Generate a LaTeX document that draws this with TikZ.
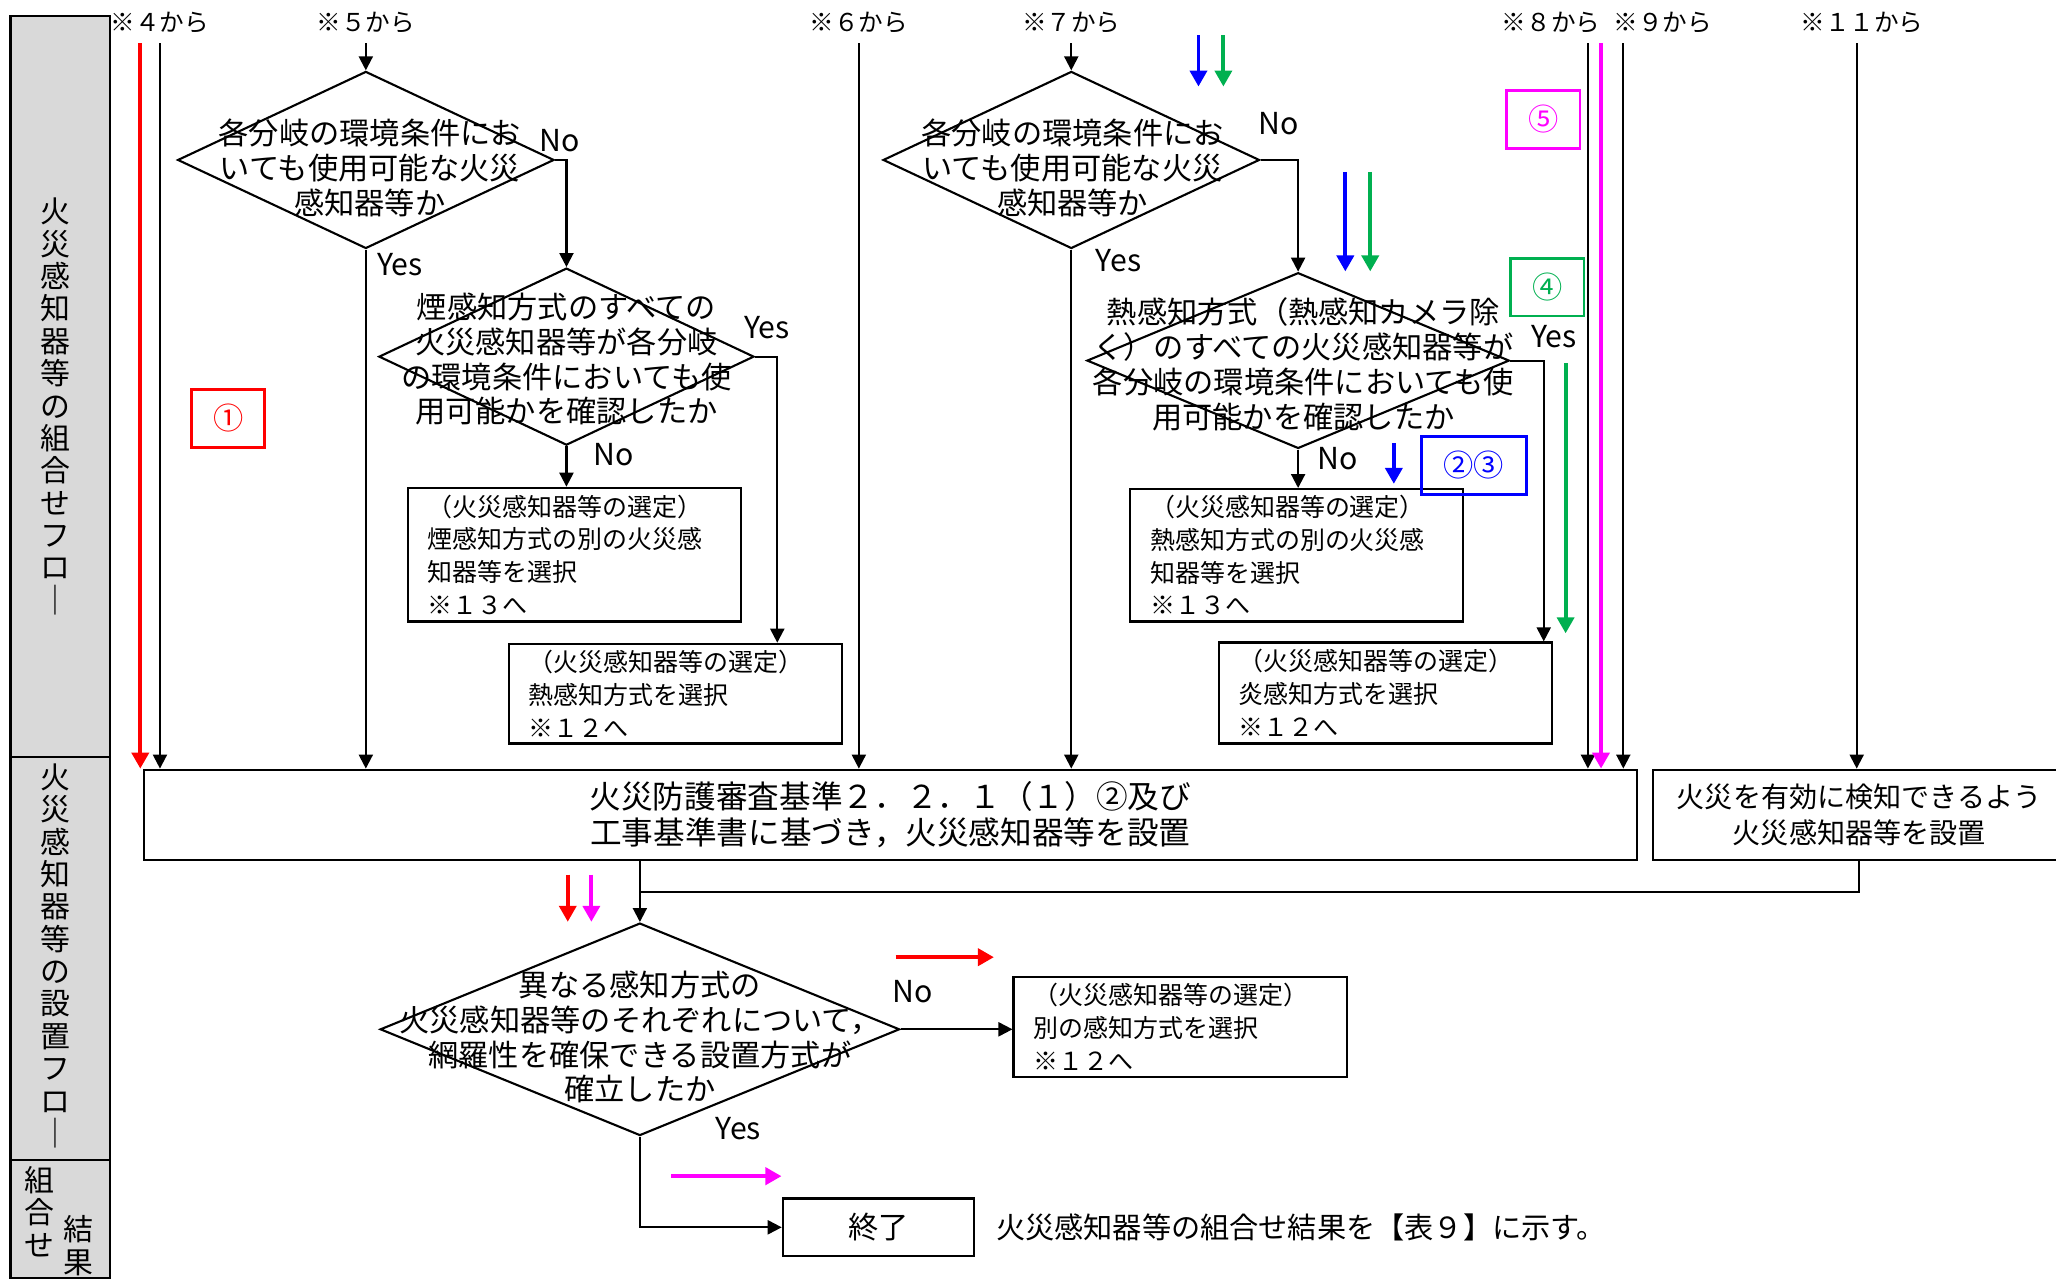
\documentclass[tikz,border=0pt]{standalone}
\usepackage{fontspec}
\setmainfont{Noto Sans CJK JP}
\usetikzlibrary{shapes.geometric, positioning, arrows.meta}
\definecolor{lanegray}{RGB}{217,217,217}
\definecolor{mkgreen}{RGB}{0,176,80}
\definecolor{mkpink}{RGB}{255,0,255}
\definecolor{mkred}{RGB}{255,0,0}
\definecolor{mkblue}{RGB}{0,0,255}

\begin{document}
\begin{tikzpicture}[x=0.013112cm, y=-0.013112cm, line width=0.6pt,
		arr/.style={-{Triangle[length=0.14cm,width=0.14cm]}},
		carr/.style={-{Triangle[length=0.16cm,width=0.17cm]}, line width=1.1pt},
		dia/.style={diamond, draw, inner sep=0pt},
		dtxt/.style={align=center, font=\fontsize{8.6}{9.9}\selectfont},
		sel/.style={rectangle, draw, minimum width=3.33cm, text width=2.93cm, inner xsep=0.2cm, inner ysep=0pt, align=left, font=\fontsize{7.1}{9.3}\selectfont},
		srcl/.style={font=\fontsize{7}{8}\selectfont},
		yn/.style={font=\fontsize{8.6}{9.9}\selectfont},
		num/.style={rectangle, draw, line width=0.8pt, minimum height=0.577cm, font=\fontsize{8.6}{9.9}\selectfont},
		lane/.style={align=center, font=\fontsize{8.5}{9.2}\selectfont}]
				\useasboundingbox (0,0) rectangle (1568,975);
				\clip (0,0) rectangle (1568,975);
				\draw[fill=lanegray] (8,12) rectangle (84,577);
				\draw[fill=lanegray] (8,577) rectangle (84,885);
				\draw[fill=lanegray] (8,885) rectangle (84,975);
				\node[lane] (l1) at (42,310) {火\\災\\感\\知\\器\\等\\の\\組\\合\\せ\\フ\\ロ\\｜};
				\node[lane] (l2) at (42,729) {火\\災\\感\\知\\器\\等\\の\\設\\置\\フ\\ロ\\｜};
				\node[lane] (l3a) at (30,924) {組\\合\\せ};
				\node[lane] (l3b) at (60,950) {結\\果};
				\node[srcl] (t4) at (122,17) {※４から};
				\node[srcl] (t5) at (279,17) {※５から};
				\node[srcl] (t6) at (655,17) {※６から};
				\node[srcl] (t7) at (817,17) {※７から};
				\node[srcl] (t8) at (1183,17) {※８から};
				\node[srcl] (t9) at (1268,17) {※９から};
				\node[srcl] (t11) at (1420,17) {※１１から};
				\coordinate (s4r) at (107,33);
				\coordinate (s4) at (122,33);
				\coordinate (s5) at (279,33);
				\coordinate (s6) at (655,33);
				\coordinate (s7) at (817,33);
				\coordinate (s8) at (1211,33);
				\coordinate (s8m) at (1221,33);
				\coordinate (s9) at (1238,33);
				\coordinate (s11) at (1416,33);
				\node[dia, minimum width=3.763cm, minimum height=1.77cm] (d1) at (279,122) {};
				\node[dtxt] (d1t) at (282,128) {各分岐の環境条件にお\\いても使用可能な火災\\感知器等か};
				\node[dia, minimum width=3.75cm, minimum height=1.77cm] (d2) at (432,272) {};
				\node[dtxt] (d2t) at (432,274) {煙感知方式のすべての\\火災感知器等が各分岐\\の環境条件においても使\\用可能かを確認したか};
				\node[dia, minimum width=3.763cm, minimum height=1.77cm] (d3) at (817,122) {};
				\node[dtxt] (d3t) at (818,128) {各分岐の環境条件にお\\いても使用可能な火災\\感知器等か};
				\node[dia, minimum width=4.222cm, minimum height=1.757cm] (d4) at (990,275) {};
				\node[dtxt] (d4t) at (994,278) {熱感知方式（熱感知カメラ除\\く）のすべての火災感知器等が\\各分岐の環境条件においても使\\用可能かを確認したか};
				\node[dia, minimum width=5.192cm, minimum height=2.124cm] (d5) at (488,785) {};
				\node[dtxt] (d5t) at (488,791) {異なる感知方式の\\火災感知器等のそれぞれについて，\\網羅性を確保できる設置方式が\\確立したか};
				\node[sel, minimum height=1.337cm] (b1) at (438,423) {（火災感知器等の選定）\\煙感知方式の別の火災感\\知器等を選択\\※１３へ};
				\node[sel, minimum height=0.997cm] (b2) at (515,529) {（火災感知器等の選定）\\熱感知方式を選択\\※１２へ};
				\node[sel, minimum height=1.324cm] (b3) at (989,423.5) {（火災感知器等の選定）\\熱感知方式の別の火災感\\知器等を選択\\※１３へ};
				\node[sel, minimum height=1.01cm] (b4) at (1056.5,528.5) {（火災感知器等の選定）\\炎感知方式を選択\\※１２へ};
				\node[sel, minimum height=0.997cm] (b5) at (900,783) {（火災感知器等の選定）\\別の感知方式を選択\\※１２へ};
				\node[rectangle, draw, minimum width=14.921cm, minimum height=0.905cm, align=center, font=\fontsize{9}{10.2}\selectfont] (m) at (679,621.5) {火災防護審査基準２．２．１（１）②及び\\工事基準書に基づき，火災感知器等を設置};
				\node[rectangle, draw, minimum width=4.117cm, minimum height=0.905cm, align=center, font=\fontsize{8}{10.2}\selectfont] (r) at (1418,621.5) {火災を有効に検知できるよう\\火災感知器等を設置};
				\node[rectangle, draw, minimum width=1.914cm, minimum height=0.577cm, font=\fontsize{8.6}{9.9}\selectfont] (e) at (670,936) {終了};
				\node[right=0.08cm of e, font=\fontsize{8.3}{9.9}\selectfont] (note) {火災感知器等の組合せ結果を【表９】に示す。};
				\node[yn] (d1n) at (427,107) {No};
				\node[yn] (d1y) at (305,202) {Yes};
				\node[yn] (d2y) at (585,250) {Yes};
				\node[yn] (d2n) at (468,347) {No};
				\node[yn] (d3n) at (975,94) {No};
				\node[yn] (d3y) at (853,199) {Yes};
				\node[yn] (d4y) at (1185,257) {Yes};
				\node[yn] (d4n) at (1020,350) {No};
				\node[yn] (d5n) at (696,756) {No};
				\node[yn] (d5y) at (563,861) {Yes};
				\node[num, draw=mkred, text=mkred, minimum width=0.734cm] (n1) at (174,319) {①};
				\node[num, draw=mkpink, text=mkpink, minimum width=0.734cm] (n5) at (1177,91) {⑤};
				\node[num, draw=mkgreen, text=mkgreen, minimum width=0.734cm] (n4) at (1180,219) {④};
				\node[num, draw=mkblue, text=mkblue, minimum width=1.049cm] (n23) at (1124,355) {②③};
				\draw[arr] (s4) -- (s4 |- m.north);
				\draw[arr] (s5) -- (d1.north);
				\draw[arr] (d1.east) -| (d2.north);
				\draw[arr] (d1.south) -- (d1.south |- m.north);
				\draw[arr] (d2.east) -| ([xshift=-0.656cm]b2.north east);
				\draw[arr] (d2.south) -- (d2.south |- b1.north);
				\draw[arr] (s6) -- (s6 |- m.north);
				\draw[arr] (s7) -- (d3.north);
				\draw[arr] (d3.east) -| (d4.north);
				\draw[arr] (d3.south) -- (d3.south |- m.north);
				\draw[arr] (d4.east) -| ([xshift=-0.092cm]b4.north east);
				\draw[arr] (d4.south) -- (d4.south |- b3.north);
				\draw[arr] (s8) -- (s8 |- m.north);
				\draw[arr] (s9) -- (s9 |- m.north);
				\draw[arr] (s11) -- (s11 |- r.north);
				\coordinate (j) at (488,680);
				\draw[arr] (d5.north |- m.south) -- (d5.north);
				\draw (r.south) |- (j);
				\draw[arr] (d5.east) -- (d5.east -| b5.west);
				\draw[arr] (d5.south) |- (e.west);
				\draw[carr, mkred] (s4r) -- (s4r |- m.north);
				\draw[carr, mkpink] (s8m) -- (s8m |- m.north);
				\draw[carr, mkblue] (914,27) -- (914,66);
				\draw[carr, mkgreen] (933,27) -- (933,66);
				\draw[carr, mkblue] (1026,131) -- (1026,207);
				\draw[carr, mkgreen] (1045,131) -- (1045,207);
				\draw[carr, mkblue] (1063,338) -- (1063,369);
				\draw[carr, mkgreen] (1194,277) -- (1194,483);
				\draw[carr, mkred] (433,667) -- (433,703);
				\draw[carr, mkpink] (451,667) -- (451,703);
				\draw[carr, mkred] (683,730) -- (758,730);
				\draw[carr, mkpink] (512,897) -- (596,897);
			\end{tikzpicture}
\end{document}
